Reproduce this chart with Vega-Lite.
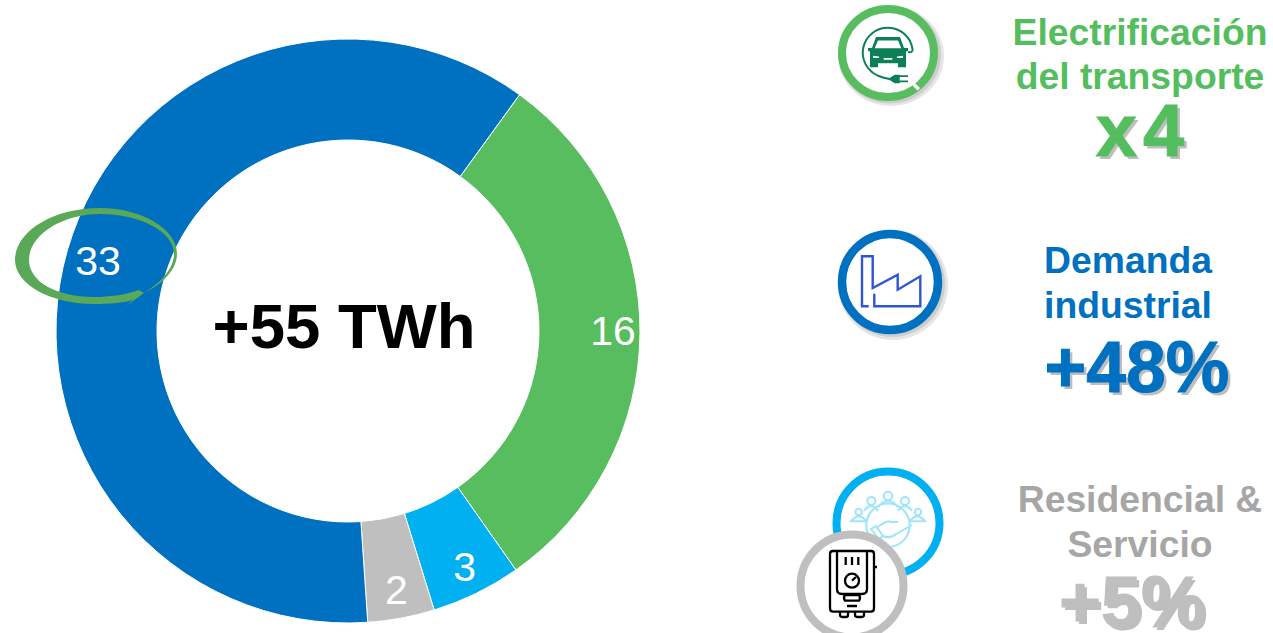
{
"$schema":"https://vega.github.io/schema/vega-lite/v6.json",
"autosize":"none",
"width":1273,"height":633,"padding":0,"background":"white",
"config":{"view":{"stroke":null}},
"datasets":{
"sectores":[
{"sector":"Electrificación del transporte","valor":16.4,"orden":1,"panel":"donut","bloque":"industria"},
{"sector":"Residencial","valor":2.7,"orden":2,"panel":"donut","bloque":"industria"},
{"sector":"Servicio","valor":2.0,"orden":3,"panel":"donut","bloque":"industria"},
{"sector":"Demanda industrial","valor":33.1,"orden":4,"panel":"donut","bloque":"industria"}
],
"textos":[
{"id":"total","texto":"+55 TWh","panel":"donut","bloque":"industria"},
{"id":"t1","texto":"Electrificación","panel":"notas","bloque":"transporte"},
{"id":"t2","texto":"del transporte","panel":"notas","bloque":"transporte"},
{"id":"t3","texto":"x\u200a4","panel":"notas","bloque":"transporte"},
{"id":"i1","texto":"Demanda","panel":"notas","bloque":"industria"},
{"id":"i2","texto":"industrial","panel":"notas","bloque":"industria"},
{"id":"i3","texto":"+48%","panel":"notas","bloque":"industria"},
{"id":"r1","texto":"Residencial &","panel":"notas","bloque":"residencial"},
{"id":"r2","texto":"Servicio","panel":"notas","bloque":"residencial"},
{"id":"r3","texto":"+5%","panel":"notas","bloque":"residencial"}
],
"iconos":[
{"icono":"auto","panel":"notas","bloque":"transporte"},
{"icono":"fabrica","panel":"notas","bloque":"industria"},
{"icono":"hogar","panel":"notas","bloque":"residencial"},
{"icono":"caldera","panel":"notas","bloque":"residencial"},
{"icono":"marca","panel":"donut","bloque":"industria"}
]
},
"encoding":{
"x":{"field":"panel","type":"nominal","axis":null,"scale":{"type":"point","domain":["donut","notas"],"range":[348,1140],"padding":0}},
"y":{"field":"bloque","type":"nominal","axis":null,"scale":{"type":"point","domain":["transporte","industria","residencial"],"range":[78,544],"padding":0}}
},
"layer":[
{"data":{"name":"sectores"},
"mark":{"type":"arc","outerRadius":292,"innerRadius":191,"yOffset":20,"stroke":"white","strokeWidth":1},
"encoding":{
"theta":{"field":"valor","type":"quantitative","stack":true,"scale":{"domain":[0,54.2],"range":[0.628,6.911]}},
"color":{"field":"sector","type":"nominal","legend":null,"scale":{"domain":["Electrificación del transporte","Residencial","Servicio","Demanda industrial"],"range":["#57BD5F","#00B0F0","#BFBFBF","#0070C0"]}},
"order":{"field":"orden","type":"quantitative"}}},
{"data":{"name":"sectores"},"transform":[{"filter":"datum.orden<4"}],
"mark":{"type":"text","radius":265,"yOffset":20,"font":"Liberation Sans","fontSize":41,"fill":"white","align":"center","baseline":"middle"},
"encoding":{
"theta":{"field":"valor","type":"quantitative","stack":true,"scale":{"domain":[0,54.2],"range":[0.628,6.911]}},
"detail":{"field":"sector","type":"nominal"},
"order":{"field":"orden","type":"quantitative"},
"text":{"field":"valor","type":"quantitative","format":".0f"}}},
{"data":{"name":"sectores"},"transform":[{"filter":"datum.orden===4"}],
"mark":{"type":"text","xOffset":-250,"yOffset":-48,"font":"Liberation Sans","fontSize":41,"fill":"white","align":"center","baseline":"middle"},
"encoding":{"text":{"field":"valor","type":"quantitative","format":".0f"}}},
{"data":{"name":"iconos"},"transform":[{"filter":"datum.icono==='marca'"}],
"mark":{"type":"point","size":4,"opacity":1,"filled":true,"fill":"#5AA958","stroke":null,"xOffset":-251,"yOffset":-54,
"shape":"M47,36 C66,27 80,12 80,-3 C80,-28 45,-49 3,-49 C-45,-49 -82,-25 -82,3 C-82,28 -45,47 -3,47 C12,47 25,46 36,43 L28,50 L47,36 L42,33 C28,38 12,40 -3,40 C-40,40 -68,25 -68,3 C-68,-22 -35,-43 3,-43 C42,-43 77,-26 77,-3 C77,12 62,27 47,36 Z"}},
{"data":{"name":"textos"},"transform":[{"filter":"datum.id==='total'"}],
"mark":{"type":"text","font":"Liberation Sans","fontWeight":"bold","fontSize":63.5,"fill":"black","align":"center","baseline":"alphabetic","xOffset":-4,"yOffset":37},
"encoding":{"text":{"field":"texto"}}},

{"data":{"name":"iconos"},"transform":[{"filter":"datum.icono==='auto'"}],
"mark":{"type":"point","size":4,"opacity":0.1,"filled":true,"fill":"black","stroke":null,"xOffset":-249,"yOffset":-22,
"shape":"M-53,0 a53,50 0 1,0 106,0 a53,50 0 1,0 -106,0 Z"}},
{"data":{"name":"iconos"},"transform":[{"filter":"datum.icono==='auto'"}],
"mark":{"type":"point","size":4,"opacity":0.1,"filled":true,"fill":"black","stroke":null,"xOffset":-250,"yOffset":-23,
"shape":"M-51,0 a51,48.5 0 1,0 102,0 a51,48.5 0 1,0 -102,0 Z"}},
{"data":{"name":"iconos"},"transform":[{"filter":"datum.icono==='auto'"}],
"mark":{"type":"point","size":4,"opacity":1,"filled":false,"fill":"white","stroke":"#58BD5F","strokeWidth":8,"xOffset":-252,"yOffset":-25,
"shape":"M-46,0 a46,44 0 1,0 92,0 a46,44 0 1,0 -92,0 Z"}},
{"data":{"name":"iconos"},"transform":[{"filter":"datum.icono==='auto'"}],
"mark":{"type":"point","size":4,"opacity":1,"filled":false,"fill":"transparent","stroke":"#0B7F56","strokeWidth":2,"xOffset":-252,"yOffset":-25,
"shape":"M20,-1 Q25,0 24.5,-4 A25,25 0 1,0 -10,22.7 Q-4,25 1.7,26"}},
{"data":{"name":"iconos"},"transform":[{"filter":"datum.icono==='auto'"}],
"mark":{"type":"point","size":4,"opacity":1,"filled":true,"fill":"#0B7F56","stroke":null,"xOffset":-252,"yOffset":-25,
"shape":"M-12,-16 L12,-16 L16,-5 L20,-5 L20,-2 L18,-1.5 L18,14.3 L10,14.3 L10,10.3 L-10,10.3 L-10,14.3 L-18,14.3 L-18,-1.5 L-20,-2 L-20,-5 L-16,-5 Z M0,26 L6.7,21.7 L11.7,21.7 L11.7,22.3 L20,22.3 L20,24 L11.7,24 L11.7,27.5 L20,27.5 L20,29.3 L11.7,29.3 L11.7,30.3 L6.7,30.3 Z"}},
{"data":{"name":"iconos"},"transform":[{"filter":"datum.icono==='auto'"}],
"mark":{"type":"point","size":4,"opacity":1,"filled":true,"fill":"white","stroke":null,"xOffset":-252,"yOffset":-25,
"shape":"M-10,-12.5 L10,-12.5 L13.3,-4.7 L-13.3,-4.7 Z M-15,2.7 L-9,3.5 L-9,5 L-15,5 Z M15,2.7 L9,3.5 L9,5 L15,5 Z M-4.3,5 L4.3,5 L4.3,6.7 L-4.3,6.7 Z M27,30 L32,35 L29.5,37.5 L24.5,32.5 Z"}},

{"data":{"name":"iconos"},"transform":[{"filter":"datum.icono==='fabrica'"}],
"mark":{"type":"point","size":4,"opacity":0.1,"filled":true,"fill":"black","stroke":null,"xOffset":-247,"yOffset":-26,
"shape":"M-55,0 a55,55 0 1,0 110,0 a55,55 0 1,0 -110,0 Z"}},
{"data":{"name":"iconos"},"transform":[{"filter":"datum.icono==='fabrica'"}],
"mark":{"type":"point","size":4,"opacity":0.1,"filled":true,"fill":"black","stroke":null,"xOffset":-248,"yOffset":-27,
"shape":"M-53,0 a53,53 0 1,0 106,0 a53,53 0 1,0 -106,0 Z"}},
{"data":{"name":"iconos"},"transform":[{"filter":"datum.icono==='fabrica'"}],
"mark":{"type":"point","size":4,"opacity":1,"filled":false,"fill":"white","stroke":"#0070C0","strokeWidth":8.5,"xOffset":-250,"yOffset":-29,
"shape":"M-48,0 a48,48 0 1,0 96,0 a48,48 0 1,0 -96,0 Z"}},
{"data":{"name":"iconos"},"transform":[{"filter":"datum.icono==='fabrica'"}],
"mark":{"type":"point","size":4,"opacity":1,"filled":false,"fill":"transparent","stroke":"#2F55D4","strokeWidth":2.4,"xOffset":-250,"yOffset":-29,
"shape":"M-21.3,24.3 L-28,24.3 L-28,-25.7 L-17.3,-25.7 L-17.3,6 L7.7,-7.3 L7.7,7.7 L30.3,-5.7 L30.3,24.3 L-15.7,24.3 L-15.7,11.7"}},

{"data":{"name":"iconos"},"transform":[{"filter":"datum.icono==='hogar'"}],
"mark":{"type":"point","size":4,"opacity":1,"filled":false,"fill":"white","stroke":"#00B0F0","strokeWidth":8,"xOffset":-252,"yOffset":-21,
"shape":"M-51.5,0 a51.5,51.5 0 1,0 103,0 a51.5,51.5 0 1,0 -103,0 Z"}},
{"data":{"name":"iconos"},"transform":[{"filter":"datum.icono==='hogar'"}],
"mark":{"type":"point","size":4,"opacity":1,"filled":false,"fill":"transparent","stroke":"#9FE4FB","strokeWidth":2,"xOffset":-252,"yOffset":-21,
"shape":"M-20.7,-22 a4,4 0 1,0 8,0 a4,4 0 1,0 -8,0 Z M-4.3,-27 a4.3,4.3 0 1,0 8.6,0 a4.3,4.3 0 1,0 -8.6,0 Z M13,-22 a4,4 0 1,0 8,0 a4,4 0 1,0 -8,0 Z M-32.6,-11 a3.3,3.3 0 1,0 6.6,0 a3.3,3.3 0 1,0 -6.6,0 Z M26.7,-11 a3.3,3.3 0 1,0 6.6,0 a3.3,3.3 0 1,0 -6.6,0 Z M-37,-1.7 Q-29.3,-12 -21.7,-1.7 Z M21.7,-1.7 Q29.3,-12 37,-1.7 Z M-24,-12 Q-17,-22 -10,-12 M10,-12 Q17,-22 24,-12 M-10,-16 Q0,-28 10,-16 M-21.7,2.3 a21.7,21.7 0 1,0 43.4,0 a21.7,21.7 0 1,0 -43.4,0 Z M-17,6 L-9,16 L-5,13 L-12,3 Z M-10,4 Q-2,-3 4,-1 L10,-1 M-5,13 Q3,16 8,11 L24,2"}},

{"data":{"name":"iconos"},"transform":[{"filter":"datum.icono==='caldera'"}],
"mark":{"type":"point","size":4,"opacity":1,"filled":false,"fill":"white","stroke":"#BFBFBF","strokeWidth":8,"xOffset":-288,"yOffset":42,
"shape":"M-51.5,0 a51.5,51.5 0 1,0 103,0 a51.5,51.5 0 1,0 -103,0 Z"}},
{"data":{"name":"iconos"},"transform":[{"filter":"datum.icono==='caldera'"}],
"mark":{"type":"point","size":4,"opacity":1,"filled":false,"fill":"transparent","stroke":"black","strokeWidth":2.3,"xOffset":-288,"yOffset":42,
"shape":"M-19,-35 H19 Q22,-35 22,-32 V22 Q22,25.7 19,25.7 H-19 Q-22,25.7 -22,22 V-32 Q-22,-35 -19,-35 Z M-15,-35 V3 Q-15,8 -10,8 H10 Q15,8 15,3 V-35 M-6.3,-29 V-21 M0,-29 V-21 M6.3,-29 V-21 M-7,-5.3 a7,7 0 1,0 14,0 a7,7 0 1,0 -14,0 Z M0,-5.3 L4,-9 M-7,9 H7 Q9,12 7,14.7 H-7 Q-9,12 -7,9 Z M-5,20 H5 M-12,25.7 V29 Q-12,31 -9,31 H-6 Q-4,31 -4,29 V25.7 M3,25.7 V29 Q3,31 6,31 H9 Q12,31 12,29 V25.7 M22,-19 H25"}},

{"data":{"name":"textos"},"transform":[{"filter":"datum.id==='t1'"}],
"mark":{"type":"text","font":"Liberation Sans","fontWeight":"bold","fontSize":37.3,"fill":"#54BE5E","align":"center","baseline":"alphabetic","yOffset":-33},
"encoding":{"text":{"field":"texto"}}},
{"data":{"name":"textos"},"transform":[{"filter":"datum.id==='t2'"}],
"mark":{"type":"text","font":"Liberation Sans","fontWeight":"bold","fontSize":37.3,"fill":"#54BE5E","align":"center","baseline":"alphabetic","yOffset":11},
"encoding":{"text":{"field":"texto"}}},
{"data":{"name":"textos"},"transform":[{"filter":"datum.id==='t3'"}],
"mark":{"type":"text","font":"Liberation Sans","fontWeight":"bold","fontSize":74,"fill":"#000","opacity":0.25,"align":"center","baseline":"alphabetic","xOffset":3,"yOffset":81},
"encoding":{"text":{"field":"texto"}}},
{"data":{"name":"textos"},"transform":[{"filter":"datum.id==='t3'"}],
"mark":{"type":"text","font":"Liberation Sans","fontWeight":"bold","fontSize":74,"fill":"#54BE5E","stroke":"#54BE5E","strokeWidth":1,"align":"center","baseline":"alphabetic","xOffset":0,"yOffset":78},
"encoding":{"text":{"field":"texto"}}},
{"data":{"name":"textos"},"transform":[{"filter":"datum.id==='i1'"}],
"mark":{"type":"text","font":"Liberation Sans","fontWeight":"bold","fontSize":37.3,"fill":"#0070C0","align":"center","baseline":"alphabetic","xOffset":-12,"yOffset":-38},
"encoding":{"text":{"field":"texto"}}},
{"data":{"name":"textos"},"transform":[{"filter":"datum.id==='i2'"}],
"mark":{"type":"text","font":"Liberation Sans","fontWeight":"bold","fontSize":37.3,"fill":"#0070C0","align":"center","baseline":"alphabetic","xOffset":-12,"yOffset":7},
"encoding":{"text":{"field":"texto"}}},
{"data":{"name":"textos"},"transform":[{"filter":"datum.id==='i3'"}],
"mark":{"type":"text","font":"Liberation Sans","fontWeight":"bold","fontSize":71.5,"fill":"#000","opacity":0.25,"align":"center","baseline":"alphabetic","xOffset":0,"yOffset":84},
"encoding":{"text":{"field":"texto"}}},
{"data":{"name":"textos"},"transform":[{"filter":"datum.id==='i3'"}],
"mark":{"type":"text","font":"Liberation Sans","fontWeight":"bold","fontSize":71.5,"fill":"#0070C0","stroke":"#0070C0","strokeWidth":1,"align":"center","baseline":"alphabetic","xOffset":-3,"yOffset":81},
"encoding":{"text":{"field":"texto"}}},
{"data":{"name":"textos"},"transform":[{"filter":"datum.id==='r1'"}],
"mark":{"type":"text","font":"Liberation Sans","fontWeight":"bold","fontSize":37.3,"fill":"#A6A6A6","align":"center","baseline":"alphabetic","yOffset":-32},
"encoding":{"text":{"field":"texto"}}},
{"data":{"name":"textos"},"transform":[{"filter":"datum.id==='r2'"}],
"mark":{"type":"text","font":"Liberation Sans","fontWeight":"bold","fontSize":37.3,"fill":"#A6A6A6","align":"center","baseline":"alphabetic","yOffset":13},
"encoding":{"text":{"field":"texto"}}},
{"data":{"name":"textos"},"transform":[{"filter":"datum.id==='r3'"}],
"mark":{"type":"text","font":"Liberation Sans","fontWeight":"bold","fontSize":72,"fill":"#000","opacity":0.25,"align":"center","baseline":"alphabetic","xOffset":-5,"yOffset":86},
"encoding":{"text":{"field":"texto"}}},
{"data":{"name":"textos"},"transform":[{"filter":"datum.id==='r3'"}],
"mark":{"type":"text","font":"Liberation Sans","fontWeight":"bold","fontSize":72,"fill":"#BFBFBF","stroke":"#BFBFBF","strokeWidth":1,"align":"center","baseline":"alphabetic","xOffset":-8,"yOffset":83},
"encoding":{"text":{"field":"texto"}}}
]
}
